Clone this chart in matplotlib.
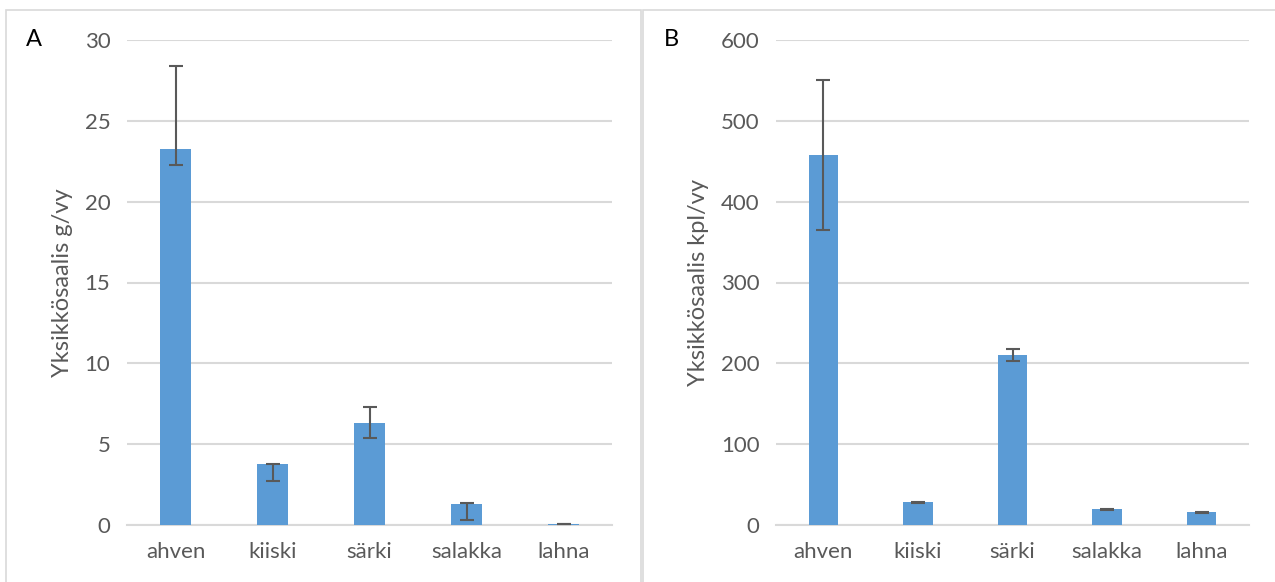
import matplotlib.pyplot as plt
from matplotlib.patches import Rectangle
import numpy as np

plt.rcParams['font.family'] = ['Lato', 'DejaVu Sans']

species = ["ahven", "kiiski", "särki", "salakka", "lahna"]

# panel A: g/vy
mass = [23.25, 3.75, 6.32, 1.31, 0.05]
mass_err_lo = [1.0, 1.0, 0.96, 1.0, 0.0]
mass_err_hi = [5.15, 0.05, 1.0, 0.05, 0.0]

# panel B: kpl/vy
count = [457.5, 28, 210, 19.5, 15.5]
count_err_lo = [92.5, 0.8, 7.5, 0.8, 0.6]
count_err_hi = [93.0, 0.8, 7.5, 0.8, 0.6]

bar_color = "#5B9BD5"
grid_color = "#D9D9D9"
text_color = "#595959"

fig = plt.figure(figsize=(12.75, 5.82), dpi=100)

# panel frames
fig.patches.append(Rectangle((6 / 1275, -0.05), 635 / 1275, 1.05 - 10 / 582,
                             transform=fig.transFigure, fill=False,
                             edgecolor=grid_color, lw=1.2))
fig.patches.append(Rectangle((643 / 1275, -0.05), 640 / 1275, 1.05 - 10 / 582,
                             transform=fig.transFigure, fill=False,
                             edgecolor=grid_color, lw=1.2))

panels = [
    dict(rect=[127 / 1275, 57 / 582, 485 / 1275, 485 / 582], vals=mass,
         lo=mass_err_lo, hi=mass_err_hi, ymax=30, step=5,
         ylabel="Yksikkösaalis g/vy", tag="A", tag_x=34 / 1275),
    dict(rect=[776 / 1275, 57 / 582, 473 / 1275, 485 / 582], vals=count,
         lo=count_err_lo, hi=count_err_hi, ymax=600, step=100,
         ylabel="Yksikkösaalis kpl/vy", tag="B", tag_x=671 / 1275),
]

for p in panels:
    ax = fig.add_axes(p["rect"])
    x = np.arange(len(species))
    ax.bar(x, p["vals"], width=0.31, color=bar_color, zorder=3)
    ax.errorbar(x, p["vals"], yerr=[p["lo"], p["hi"]], fmt="none",
                ecolor="#595959", elinewidth=1.5, capsize=5, capthick=1.5, zorder=4)
    ax.set_ylim(0, p["ymax"])
    ax.set_xlim(-0.5, len(species) - 0.5)
    ax.set_yticks(np.arange(0, p["ymax"] + 1, p["step"]))
    ax.set_xticks(x)
    ax.set_xticklabels(species)
    ax.yaxis.grid(True, color=grid_color, lw=1.5, zorder=0)
    ax.set_axisbelow(True)
    for s in ["top", "right", "left"]:
        ax.spines[s].set_visible(False)
    ax.spines["bottom"].set_color(grid_color)
    ax.spines["bottom"].set_linewidth(1.5)
    ax.tick_params(length=0, labelsize=16, colors=text_color, pad=12)
    ax.tick_params(axis="x", pad=12)
    ax.set_ylabel(p["ylabel"], fontsize=17, color=text_color, labelpad=8)
    fig.text(p["tag_x"], 1 - 40 / 582, p["tag"], fontsize=17, color="black",
             va="center", ha="center")

plt.savefig("out.png", dpi=100)
